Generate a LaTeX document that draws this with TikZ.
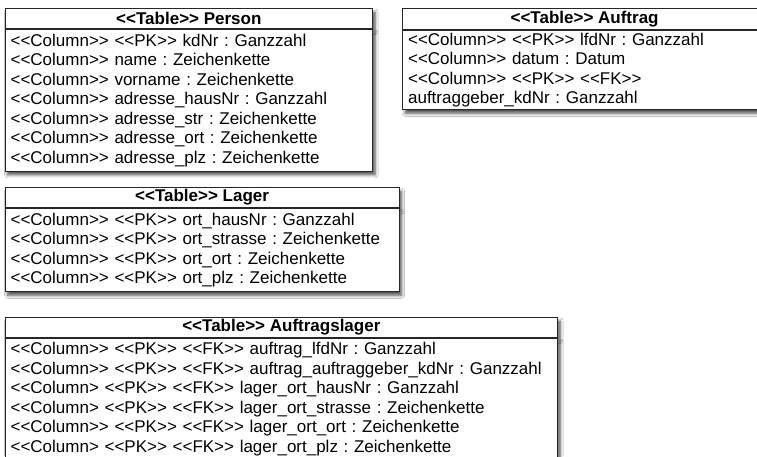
\documentclass[tikz,border=0pt]{standalone}
\usepackage{fontspec}
\setmainfont{Liberation Sans}[Ligatures=TeXOff]
\usetikzlibrary{shadows.blur}
\frenchspacing

% stereotype labels used in the table rows
\newcommand\stcol{<<Column>>}
\newcommand\stcolx{<<Column>}
\newcommand\stpk{<<PK>>}
\newcommand\stfk{<<FK>>}
\newcommand\sttab{<<Table>>}
\newcommand\rowfont{\fontsize{17}{19.5}\selectfont}
\newcommand\headfont{\fontsize{17}{19.5}\selectfont\bfseries}

\tikzset{
  tableshadow/.style={blur shadow={shadow xshift=2.5pt, shadow yshift=-3.5pt,
      shadow opacity=70, shadow blur steps=6, shadow blur radius=3pt}},
  tabletitle/.style={draw=black!85, line width=1.2pt, fill=white, font=\headfont,
      inner sep=0pt, anchor=north west, tableshadow},
  tablebody/.style={draw=black!85, line width=1.2pt, fill=white, font=\rowfont,
      align=left, inner xsep=5.5pt, inner ysep=0pt, anchor=north west, tableshadow},
}

\begin{document}
\begin{tikzpicture}[x=1pt, y=1pt]
  \useasboundingbox[fill=white] (0,0) rectangle (757,-456);

  % Person
  \node[tabletitle, minimum width=367.5pt, minimum height=19.5pt] (person-title) at (4.5,-8)
    {\sttab{} Person};
  \node[tablebody, text width=356.5pt, minimum height=142pt] (person-body) at (person-title.south west)
    {\stcol{} \stpk{} kdNr : Ganzzahl\\
     \stcol{} name : Zeichenkette\\
     \stcol{} vorname : Zeichenkette\\
     \stcol{} adresse\_hausNr : Ganzzahl\\
     \stcol{} adresse\_str : Zeichenkette\\
     \stcol{} adresse\_ort : Zeichenkette\\
     \stcol{} adresse\_plz : Zeichenkette};

  % Auftrag
  \node[tabletitle, minimum width=364pt, minimum height=21pt] (auftrag-title) at (402,-8)
    {\sttab{} Auftrag};
  \node[tablebody, text width=353pt, minimum height=79pt] (auftrag-body) at (auftrag-title.south west)
    {\stcol{} \stpk{} lfdNr : Ganzzahl\\
     \stcol{} datum : Datum\\
     \stcol{} \stpk{} \stfk{}\\
     auftraggeber\_kdNr : Ganzzahl};

  % Lager
  \node[tabletitle, minimum width=394pt, minimum height=20pt] (lager-title) at (4.5,-187)
    {\sttab{} Lager};
  \node[tablebody, text width=383pt, minimum height=83pt] (lager-body) at (lager-title.south west)
    {\stcol{} \stpk{} ort\_hausNr : Ganzzahl\\
     \stcol{} \stpk{} ort\_strasse : Zeichenkette\\
     \stcol{} \stpk{} ort\_ort : Zeichenkette\\
     \stcol{} \stpk{} ort\_plz : Zeichenkette};

  % Auftragslager
  \node[tabletitle, minimum width=552.5pt, minimum height=19.5pt] (alager-title) at (4.5,-317)
    {\sttab{} Auftragslager};
  \node[tablebody, text width=541.5pt, minimum height=122pt] (alager-body) at (alager-title.south west)
    {\stcol{} \stpk{} \stfk{} auftrag\_lfdNr : Ganzzahl\\
     \stcol{} \stpk{} \stfk{} auftrag\_auftraggeber\_kdNr : Ganzzahl\\
     \stcolx{} \stpk{} \stfk{} lager\_ort\_hausNr : Ganzzahl\\
     \stcolx{} \stpk{} \stfk{} lager\_ort\_strasse : Zeichenkette\\
     \stcol{} \stpk{} \stfk{} lager\_ort\_ort : Zeichenkette\\
     \stcolx{} \stpk{} \stfk{} lager\_ort\_plz : Zeichenkette};
\end{tikzpicture}
\end{document}
